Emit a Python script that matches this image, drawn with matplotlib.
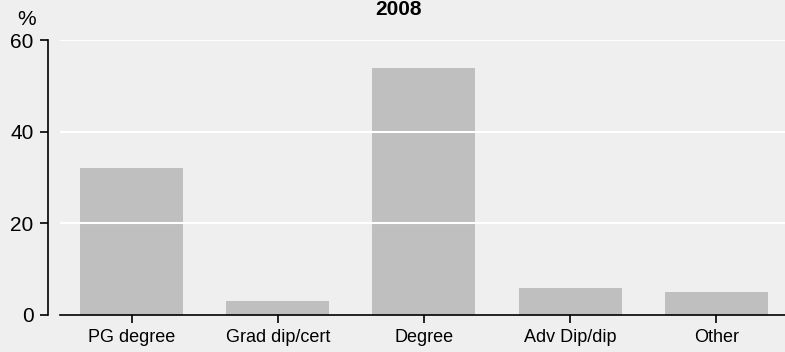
import matplotlib
matplotlib.use('Agg')
import matplotlib.pyplot as plt
import numpy as np

# data
categories = ['PG degree', 'Grad dip/cert', 'Degree', 'Adv Dip/dip', 'Other']
values = [32, 3, 54, 6, 5]
yticks = [0, 20, 40, 60]

plt.rcParams['font.family'] = ['Liberation Sans', 'DejaVu Sans']

bg = '#efefef'
fig = plt.figure(figsize=(7.85, 3.52), dpi=100, facecolor=bg)
ax = fig.add_axes([60 / 785, 37 / 352, 725 / 785, 275 / 352])
ax.set_facecolor(bg)

x = np.arange(len(categories))
ax.bar(x, values, width=0.705, color='#bfbfbf', zorder=1)

# white gridlines sit on top of the bars
for v in yticks[1:]:
    ax.axhline(v, color='white', lw=1.5, zorder=2)

ax.set_xlim(-0.49, 4.47)
ax.set_ylim(0, 60)
ax.set_yticks(yticks)
ax.set_xticks(x)
ax.set_xticklabels(categories, fontsize=13)
ax.tick_params(axis='y', labelsize=15, length=6, width=1.2, pad=4.5)
ax.tick_params(axis='x', length=6, width=1.2, pad=4)

for s in ['top', 'right']:
    ax.spines[s].set_visible(False)
ax.spines['left'].set_position(('outward', 8.6))
ax.spines['left'].set_linewidth(1.2)
ax.spines['bottom'].set_linewidth(1.2)

fig.text(26.5 / 785, 1 - 25 / 352, '%', fontsize=15, ha='center', va='baseline')
fig.text(399 / 785, 1 - 15 / 352, '2008', fontsize=15, fontweight='bold', ha='center', va='baseline')

fig.savefig('out.png', dpi=100, facecolor=bg)
